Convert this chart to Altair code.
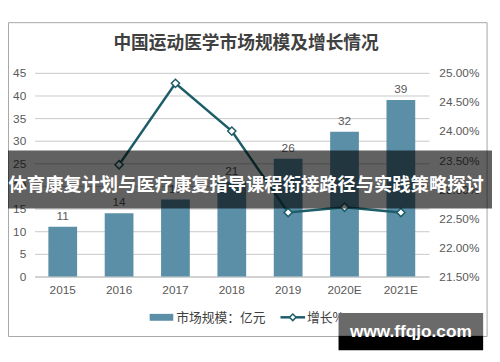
import altair as alt
import pandas as pd

years = ["2015", "2016", "2017", "2018", "2019", "2020E", "2021E"]
market = [11, 14, 17, 21, 26, 32, 39]
growth = [None, 0.2342, 0.2482, 0.2400, 0.2260, 0.2269, 0.2260]

left_ticks = [0, 5, 10, 15, 20, 25, 30, 35, 40, 45]
right_ticks = [0.215, 0.22, 0.225, 0.23, 0.235, 0.24, 0.245, 0.25]

title_text = "中国运动医学市场规模及增长情况"
legend_bar = "市场规模：亿元"
legend_line = "增长%"
banner_text = "体育康复计划与医疗康复指导课程衔接路径与实践策略探讨"
watermark = "www.ffqjo.com"

BAR = "#5b8fa7"
LINE = "#1c5d68"
TXT = "#595959"
CJK = "Noto Sans CJK SC"
LAT = "Liberation Sans"

df = pd.DataFrame({"year": years, "market": market})
dg = pd.DataFrame({"year": years[1:], "growth": growth[1:]})
one = pd.DataFrame({"k": [0]})

xenc = alt.X("year:N", sort=years, title=None,
             scale=alt.Scale(paddingInner=0.49, paddingOuter=0.245),
             axis=alt.Axis(labelAngle=0, ticks=False, labelPadding=8, labelFontSize=12,
                           labelColor=TXT, labelFont=LAT, domainColor="#bfbfbf",
                           labelOverlap=False))

yleft = alt.Y("market:Q", title=None,
              scale=alt.Scale(domain=[0, 45]),
              axis=alt.Axis(values=left_ticks, grid=True, gridColor="#c8c8c8", domain=False,
                            ticks=False, labelPadding=9, labelFontSize=12, labelColor=TXT,
                            labelFont=LAT, labelOverlap=False))

bars = alt.Chart(df).mark_bar(color=BAR).encode(x=xenc, y=yleft)
bar_text = alt.Chart(df).mark_text(baseline="bottom", dy=-4, fontSize=12, color=TXT, font=LAT).encode(
    x=xenc, y=yleft, text="market:Q")
left_layer = alt.layer(bars, bar_text)

yright = alt.Y("growth:Q", title=None,
               scale=alt.Scale(domain=[0.215, 0.25]),
               axis=alt.Axis(orient="right", values=right_ticks, format=".2%", grid=False,
                             domain=False, ticks=False, labelPadding=10, labelFontSize=12,
                             labelColor=TXT, labelFont=LAT, labelOverlap=False))
line = alt.Chart(dg).mark_line(color=LINE, strokeWidth=2.5).encode(x=xenc, y=yright)
pts = alt.Chart(dg).mark_point(shape="diamond", filled=True, fill="white", stroke=LINE,
                                strokeWidth=1.5, size=70, opacity=1).encode(x=xenc, y=yright)
right_layer = alt.layer(line, pts)


def txt(s, x, y, size, color, font=CJK, weight="normal", align="center", baseline="middle"):
    return alt.Chart(one).mark_text(text=s, fontSize=size, color=color, font=font,
                                    fontWeight=weight, align=align, baseline=baseline).encode(
        x=alt.value(x), y=alt.value(y))


def rect(x, x2, y, y2, fill, opacity=1.0, stroke=None):
    kw = dict(fill=fill, fillOpacity=opacity)
    if stroke:
        kw = dict(fill="white", fillOpacity=0, stroke=stroke, strokeWidth=1)
    return alt.Chart(one).mark_rect(**kw).encode(
        x=alt.value(x), x2=alt.value(x2), y=alt.value(y), y2=alt.value(y2))


border = rect(-26.5, 460, -51, 268, None, stroke="#a6a6a6")
title = txt(title_text, 215, -29, 18, "#404040", weight="bold")
leg_sw = rect(117, 141, 245, 252, BAR)
leg_t1 = txt(legend_bar, 144, 249, 13, "#404040", align="left")
leg_rule = alt.Chart(one).mark_rule(color=LINE, strokeWidth=2.5).encode(
    x=alt.value(250), x2=alt.value(275), y=alt.value(248.5))
leg_pt = alt.Chart(one).mark_point(shape="diamond", filled=True, fill="white", stroke=LINE,
                                   strokeWidth=1.5, size=45, opacity=1).encode(
    x=alt.value(262.5), y=alt.value(248.5))
leg_t2 = txt(legend_line, 277, 249, 13, "#404040", align="left")

banner = rect(-27, 465, 79, 138, "black", 0.62)
banner_t = txt(banner_text, 215, 114, 18.6, "white", weight="bold")

wm1 = rect(309, 456, 244, 267, "#6a6a6a")
wm2 = rect(309, 456, 267, 282, "black")
wm_t = txt(watermark, 382.5, 269, 17.5, "white", font=LAT, weight="bold", baseline="alphabetic")

chart = alt.layer(
    border, title, left_layer, right_layer, leg_sw, leg_t1, leg_rule, leg_pt, leg_t2,
    banner, banner_t, wm1, wm2, wm_t
).resolve_scale(y="independent").properties(
    width=401, height=207,
    padding={"left": 27, "top": 63, "right": 64, "bottom": 84},
    autosize=alt.AutoSizeParams(type="none"),
    background="white",
).configure_view(stroke=None).configure_axis(labelOverlap=False)

chart.save("out.html", embed_options={"renderer": "svg", "actions": False})
